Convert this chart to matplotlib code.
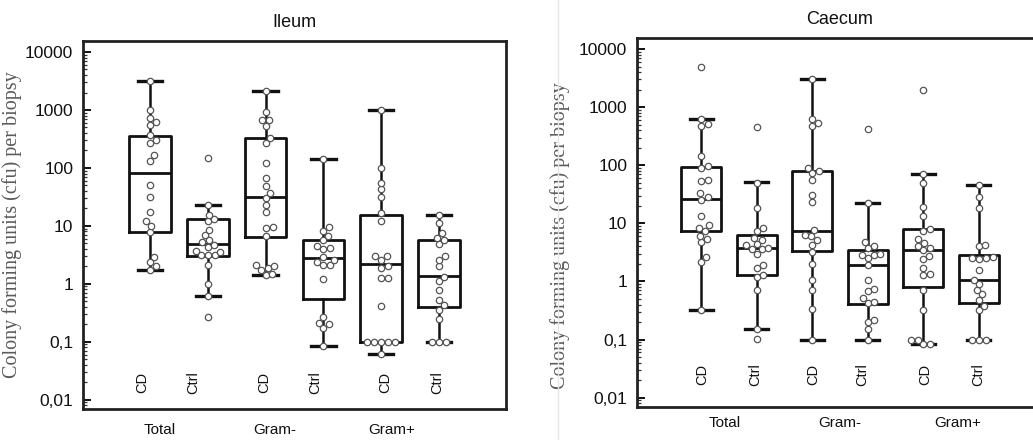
import numpy as np
import matplotlib
matplotlib.use('Agg')
import matplotlib.pyplot as plt
from matplotlib.lines import Line2D
from matplotlib.ticker import LogLocator, FixedLocator, FixedFormatter, NullFormatter

box_names = ['CD', 'Ctrl', 'CD', 'Ctrl', 'CD', 'Ctrl']
group_names = ['Total', 'Gram-', 'Gram+']
ytick_vals = [0.01, 0.1, 1, 10, 100, 1000, 10000]
ytick_labels = ['0,01', '0,1', '1', '10', '100', '1000', '10000']
ylabel = 'Colony forming units (cfu) per biopsy'

# Ileum box statistics
ileum_med = [81, 4.9, 31, 2.77, 2.18, 1.34]
ileum_q1 = [7.7, 3.08, 6.5, 0.545, 0.10, 0.40]
ileum_q3 = [360, 13.2, 324, 5.74, 15.5, 5.6]
ileum_lo = [1.74, 0.62, 1.43, 0.083, 0.061, 0.1]
ileum_hi = [3100, 23, 2100, 143, 1000, 15.5]
ileum_points = [
    [3100, 1000, 718, 630, 550, 370, 304, 266, 167, 134, 50, 31, 17.4, 11.9, 10, 7.7, 2.96, 2.4, 2.0, 1.74],
    [147, 23, 15.5, 13, 12, 8.5, 7, 5.7, 5.2, 4.7, 4.4, 3.7, 3.6, 3.1, 3.1, 3.1, 2.1, 1.0, 0.62, 0.27],
    [2100, 935, 673, 673, 530, 324, 266, 120, 66, 48, 37, 30, 23, 17.6, 9.7, 9.3, 6.7, 2.1, 2.0, 1.9, 1.74, 1.5, 1.43],
    [143, 9.7, 8.3, 6.8, 5.7, 4.5, 4.2, 4.0, 2.9, 2.6, 2.4, 2.1, 2.1, 1.2, 0.27, 0.21, 0.2, 0.17, 0.083],
    [1000, 100, 56, 43, 32, 16.5, 12.2, 3.0, 3.0, 2.6, 2.0, 1.9, 1.25, 1.25, 0.42, 0.1, 0.1, 0.1, 0.1, 0.1, 0.061],
    [15.5, 11, 7.5, 6.2, 5.6, 4.8, 3.0, 2.6, 2.0, 1.33, 1.1, 0.79, 0.53, 0.43, 0.36, 0.25, 0.1, 0.1, 0.1],
]

# Caecum box statistics
caecum_med = [26.4, 3.8, 7.4, 1.9, 3.5, 1.08]
caecum_q1 = [7.3, 1.31, 3.36, 0.417, 0.81, 0.43]
caecum_q3 = [94, 6.4, 80, 3.55, 7.9, 2.91]
caecum_lo = [0.32, 0.155, 0.1, 0.1, 0.083, 0.1]
caecum_hi = [631, 50.6, 3000, 22, 71, 45.5]
caecum_points = [
    [5000, 630, 510, 470, 144, 97, 88, 55, 53, 33, 28, 25.5, 13.3, 9.2, 8.3, 7.3, 6.1, 5.3, 4.7, 2.65, 2.2, 0.32],
    [460, 50, 18.7, 8.4, 7.3, 5.7, 5.2, 4.5, 4.2, 3.8, 3.6, 3.6, 3.0, 1.9, 1.7, 1.27, 1.2, 0.71, 0.155, 0.104],
    [3000, 615, 525, 470, 90, 80, 74, 55, 31, 23.5, 7.6, 6.3, 6.0, 5.1, 4.2, 3.2, 2.0, 1.05, 0.71, 0.34, 0.1],
    [414, 22, 4.8, 4.1, 3.8, 2.95, 2.9, 2.8, 2.5, 1.9, 1.05, 0.75, 0.68, 0.51, 0.44, 0.42, 0.215, 0.2, 0.15, 0.1],
    [2000, 71, 50, 18.8, 13.3, 8.1, 7.5, 5.3, 4.6, 4.05, 3.7, 3.5, 2.72, 2.4, 1.7, 1.37, 1.28, 0.72, 0.32, 0.1, 0.1, 0.085, 0.083],
    [45, 28.6, 18.7, 4.2, 4.0, 2.6, 2.5, 2.5, 2.4, 1.56, 1.08, 0.92, 0.72, 0.6, 0.475, 0.38, 0.32, 0.1, 0.1, 0.1],
]

plt.rcParams['font.family'] = ['Liberation Sans', 'DejaVu Sans']

positions = np.arange(1, 7)


def swarm_x(ax, pos, vals, diam=6.6):
    # beeswarm in pixel space: nearest free spot next to the box centre
    to_px = ax.transData
    x0 = to_px.transform((pos, 1))[0]
    placed = []
    out = []
    for v in vals:
        y = to_px.transform((pos, v))[1]
        best = None
        for i in range(0, 60):
            for s in ([0] if i == 0 else [1, -1]):
                x = x0 + s * i * 0.5
                if all((x - px) ** 2 + (y - py) ** 2 >= diam ** 2 for px, py in placed):
                    best = x
                    break
            if best is not None:
                break
        placed.append((best, y))
        out.append(to_px.inverted().transform((best, y))[0])
    return out


def draw_panel(ax, title, med, q1, q3, lo, hi, points, name_x, group_x, name_y, group_y, ylab_xy):
    ax.set_yscale('log')
    ax.set_ylim(10 ** -2.16, 10 ** 4.19)
    ax.set_xlim(-0.16, 7.16)

    stats = []
    for i in range(6):
        stats.append({'med': med[i], 'q1': q1[i], 'q3': q3[i],
                      'whislo': lo[i], 'whishi': hi[i], 'fliers': []})
    ax.bxp(stats, positions=positions, widths=0.72, showfliers=False,
           capwidths=0.42,
           boxprops=dict(color='#111111', linewidth=2.0),
           medianprops=dict(color='#111111', linewidth=2.0),
           whiskerprops=dict(color='#111111', linewidth=1.8),
           capprops=dict(color='#111111', linewidth=2.4))

    for i in range(6):
        vals = sorted(points[i])
        xs = swarm_x(ax, positions[i], vals)
        ax.plot(xs, vals, 'o', ms=4.6, mfc='white', mec='#555555', mew=0.9,
                zorder=5, clip_on=False)

    for x, n in zip(name_x, box_names):
        ax.text(x, name_y, n, rotation=90, ha='center', va='center', fontsize=10.5,
                color='#111111')
    for x, g in zip(group_x, group_names):
        ax.text(x, group_y, g, transform=ax.get_xaxis_transform(), ha='center',
                va='center', fontsize=11, color='#111111')

    ax.yaxis.set_major_locator(FixedLocator(ytick_vals))
    ax.yaxis.set_major_formatter(FixedFormatter(ytick_labels))
    ax.yaxis.set_minor_locator(LogLocator(base=10, subs=np.arange(2, 10), numticks=20))
    ax.yaxis.set_minor_formatter(NullFormatter())
    ax.tick_params(axis='y', which='major', direction='in', length=6, width=1.4,
                   labelsize=12.5, pad=7, colors='#111111')
    ax.tick_params(axis='y', which='minor', direction='in', length=3, width=0.9,
                   colors='#333333')
    ax.set_xticks([])
    for sp in ax.spines.values():
        sp.set_linewidth(2.0)
        sp.set_color('#222222')

    ax.set_title(title, fontsize=13, pad=10, color='#111111')
    ax.set_ylabel(ylabel, family=['Liberation Serif', 'DejaVu Serif'], fontsize=14.5,
                  color='#5a5a5a')
    ax.yaxis.set_label_coords(*ylab_xy)


fig = plt.figure(figsize=(10.33, 4.4), dpi=100)
ax1 = fig.add_axes([83 / 1033, 31 / 440, 423 / 1033, 368 / 440])
ax2 = fig.add_axes([637 / 1033, 33 / 440, 406 / 1033, 369 / 440])

draw_panel(ax1, 'Ileum', ileum_med, ileum_q1, ileum_q3, ileum_lo, ileum_hi, ileum_points,
           [0.86, 1.74, 2.97, 3.86, 5.07, 5.97], [1.17, 3.15, 5.19],
           0.0195, -0.058, (-0.145, 0.5))
draw_panel(ax2, 'Caecum', caecum_med, caecum_q1, caecum_q3, caecum_lo, caecum_hi, caecum_points,
           [1.02, 1.98, 3.02, 3.9, 5.04, 5.99], [1.42, 3.5, 5.63],
           0.025, -0.043, (-0.165, 0.465))

fig.add_artist(Line2D([558 / 1033, 558 / 1033], [0, 1], color='#e6e6e6', lw=1))

fig.savefig('out.png', dpi=100)
